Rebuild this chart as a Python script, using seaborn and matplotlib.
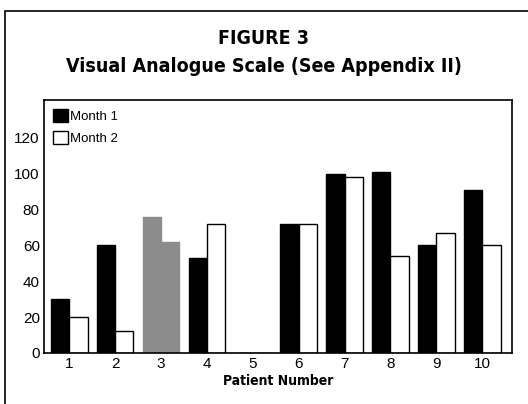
"""Visual Analogue Scale bar chart (Figure 3) redrawn with seaborn."""

import pandas as pd
import seaborn as sb
from matplotlib import pyplot as plt
from matplotlib.patches import Patch, Rectangle

# values
patients = ["1", "2", "3", "4", "5", "6", "7", "8", "9", "10"]
month1 = [30, 60, 76, 53, 0, 72, 100, 101, 60, 91]
month2 = [20, 12, 62, 72, 0, 72, 98, 54, 67, 60]
months = ["Month 1", "Month 2"]

df = pd.DataFrame({"Patient": patients * 2,
                   "Score": month1 + month2,
                   "Month": [months[0]] * len(patients) + [months[1]] * len(patients)})

sb.set_style("white")
plt.rcParams["font.family"] = ["Liberation Sans", "DejaVu Sans"]
plt.rcParams["text.color"] = "black"
plt.rcParams["xtick.color"] = "black"
plt.rcParams["ytick.color"] = "black"

# condensed bold face for the headings
head = dict(family="DejaVu Sans", fontstretch="condensed", fontweight="bold", color="black")

fig = plt.figure(figsize=(5.28, 4.04), dpi=100)
ax = fig.add_axes([44 / 528, 1 - 353 / 404, 468 / 528, 253 / 404])

sb.barplot(data=df, x="Patient", y="Score", hue="Month", order=patients,
           palette=["black", "white"], edgecolor="black", linewidth=1.0,
           width=0.8, saturation=1, legend=False, ax=ax)

# patient 3 is a grey smudge in the scan
for bar in ax.patches:
    cx = bar.get_x() + bar.get_width() / 2
    if 1.5 < cx < 2.5:
        bar.set_facecolor("#8c8c8c")
        bar.set_edgecolor("#8c8c8c")

ax.set_xlim(-0.55, 9.65)
ax.set_ylim(0, 141)
ax.set_yticks(range(0, 121, 20))
ax.tick_params(axis="both", labelsize=11, length=0, pad=3)
ax.set_ylabel("")
ax.set_xlabel("Patient Number", fontsize=10, labelpad=2, **head)
for s in ax.spines.values():
    s.set_color("black")
    s.set_linewidth(1.2)

handles = [Patch(facecolor="black", edgecolor="black", label=months[0]),
           Patch(facecolor="white", edgecolor="black", label=months[1])]
ax.legend(handles=handles, loc="upper left", frameon=False, fontsize=9.5,
          handlelength=1.1, handleheight=1.1, handletextpad=0.2,
          labelspacing=0.6, borderaxespad=0.3)

fig.text(0.5, 1 - 38 / 404, "FIGURE 3", ha="center", va="center",
         fontsize=14, **head)
fig.text(0.5, 1 - 66 / 404, "Visual Analogue Scale (See Appendix II)",
         ha="center", va="center", fontsize=14, **head)

# outer frame of the scanned page
fig.patches.append(Rectangle((5 / 528, -0.05), 1.2, 1 - 11 / 404 + 0.05,
                             transform=fig.transFigure, fill=False,
                             edgecolor="black", linewidth=1.2))

fig.savefig("out.png", dpi=100)
